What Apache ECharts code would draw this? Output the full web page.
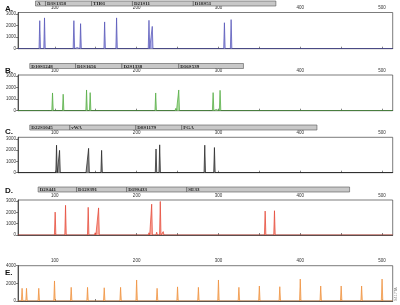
<!DOCTYPE html>
<html>
<head>
<meta charset="utf-8">
<script src="https://cdn.jsdelivr.net/npm/echarts@6/dist/echarts.min.js"></script>
<style>
  html, body { margin: 0; padding: 0; background: #fff; }
  #chart { width: 400px; height: 305px; }
</style>
</head>
<body>
<div id="chart"></div>
<script>
// size axis (bp)
const xMin = 55
const xMax = 513
const xTickValues = [100, 150, 200, 250, 300, 350, 400, 450, 500]
const xLabelValues = [100, 200, 300, 400, 500]
const yTicksSTR = [0, 1000, 2000, 3000]
const yTicksLadder = [0, 2000, 4000]

// peaks: [size bp, height RFU]
const peaksA = [[81.6, 2440], [87.4, 2680], [119.2, 120], [123.3, 2440], [127.3, 100], [131.5, 2180],
  [160.9, 2330], [171.4, 80], [175.5, 2680], [211, 120], [215.1, 2470], [219.1, 1940],
  [304, 80], [307.3, 2260], [312.2, 100], [315.5, 2530]]
const peaksB = [[93, 100], [97.2, 1540], [106.1, 150], [110.2, 1430], [135.5, 120], [138.8, 1800],
  [143.2, 1570], [220.4, 100], [223.3, 1540], [247.8, 200], [251.5, 1800], [289.8, 80],
  [293.5, 1570], [297.1, 100], [302, 1770]]
const peaksC = [[65, 30], [98.9, 150], [102.1, 2450], [108.6, 150],
  [105.8, 1990], [139, 100], [141.3, 2170], [153.9, 100], [157.2, 1990], [220.4, 150], [223.7, 2110],
  [228.2, 2480], [279.6, 100], [283.3, 2450], [291.9, 120], [295.1, 2240], [357.1, 40], [368.2, 40]]
const peaksD = [[96.7, 100], [100.4, 2030], [109.4, 100], [113.1, 2630], [137.1, 80], [140.8, 2450],
  [149.3, 200], [153.5, 2400], [215.1, 200], [218.4, 2730], [224.5, 250], [228.9, 2970],
  [232.5, 300], [353.1, 100], [357.1, 2120], [364.5, 100], [368.5, 2150]]
const peaksE = [[60, 1440], [65.4, 1440], [80.4, 1440], [99.6, 2270], [120, 1550], [140, 1550],
  [160.4, 1500], [180.4, 1550], [200, 2380], [225, 1440], [250, 1600], [275.5, 1550],
  [300, 2380], [325, 1550], [350, 1700], [375, 1620], [400, 2490], [425, 1700],
  [450, 1700], [475, 1700], [500, 2490]]

// locus bins above each dye panel: names and edges (bp)
const lociA = ['A', 'D3S1358', 'TH01', 'D21S11', 'D18S51']
const edgesA = [76.4, 88.6, 144.9, 194.9, 269.3, 370.2]
const lociB = ['D10S1248', 'D1S1656', 'D2S1338', 'D16S539']
const edgesB = [69.4, 125.3, 182, 251.5, 330.6]
const lociC = ['D22S1045', 'vWA', 'D8S1179', 'FGA']
const edgesC = [69.4, 118.4, 199, 255.1, 420.4]
const lociD = ['D2S441', 'D12S391', 'D19S433', 'SE33']
const edgesD = [79.6, 126.6, 187.8, 261.3, 460.3]

const panels = [
  { letter: 'A.', peaks: peaksA, loci: lociA, edges: edgesA, line: '#4d4db5', fill: '#a9a9e6', top: 12.5, h: 36.2, yMax: 3150, yTicks: yTicksSTR, barTop: 1, letterTop: 0 },
  { letter: 'B.', peaks: peaksB, loci: lociB, edges: edgesB, line: '#4aa83a', fill: '#a6da96', top: 75, h: 35.7, yMax: 3100, yTicks: yTicksSTR, barTop: 63.5, letterTop: 62 },
  { letter: 'C.', peaks: peaksC, loci: lociC, edges: edgesC, line: '#1e1e1e', fill: '#8a8a8a', top: 137.3, h: 35.4, yMax: 3150, yTicks: yTicksSTR, barTop: 125, letterTop: 122.5 },
  { letter: 'D.', peaks: peaksD, loci: lociD, edges: edgesD, line: '#e4402f', fill: '#f8a293', top: 200, h: 35, yMax: 3100, yTicks: yTicksSTR, barTop: 187, letterTop: 182 },
  { letter: 'E.', peaks: peaksE, loci: null, edges: null, line: '#ee8a32', fill: '#fcc992', top: 265.7, h: 35.3, yMax: 4000, yTicks: yTicksLadder, barTop: null, letterTop: 264 }
]

function trace (peaks) {
  const w = 0.9
  const pts = [[xMin, 0]]
  peaks.slice().sort((a, b) => a[0] - b[0]).forEach(([p, v]) => {
    pts.push([p - w, 0], [p, v], [p + w, 0])
  })
  pts.push([xMax, 0])
  return pts
}

const grid = []
const xAxis = []
const yAxis = []
const series = []
const title = []

panels.forEach((pn, i) => {
  grid.push({ left: 18, right: 7.3, top: pn.top, height: pn.h, show: true, borderColor: '#444', borderWidth: 0.7 })
  xAxis.push({
    gridIndex: grid.length - 1, type: 'value', position: 'top', min: xMin, max: xMax,
    axisLine: { lineStyle: { color: '#333', width: 0.8 } },
    axisTick: { customValues: xTickValues, length: 2, lineStyle: { color: '#333', width: 0.6 } },
    axisLabel: { customValues: xLabelValues, fontSize: 4.5, color: '#333', margin: 2, fontFamily: 'Liberation Sans' },
    splitLine: { show: false }
  })
  yAxis.push({
    gridIndex: grid.length - 1, type: 'value', min: 0, max: pn.yMax,
    axisLine: { show: true, lineStyle: { color: '#333', width: 0.8 } },
    axisTick: { show: true, customValues: pn.yTicks, length: 2, lineStyle: { color: '#333', width: 0.6 } },
    axisLabel: { customValues: pn.yTicks, fontSize: 4.5, color: '#333', margin: 2, fontFamily: 'Liberation Sans',
      formatter: v => String(v) },
    splitLine: { show: false }
  })
  series.push({
    type: 'line', xAxisIndex: xAxis.length - 1, yAxisIndex: yAxis.length - 1,
    data: trace(pn.peaks), showSymbol: false, silent: true,
    lineStyle: { color: pn.line, width: 0.7 },
    areaStyle: { color: pn.fill, opacity: 0.9 }
  })
  title.push({ text: pn.letter, left: 0, top: pn.letterTop, textStyle: { fontSize: 8, fontWeight: 'bold', color: '#111', fontFamily: 'Liberation Sans' } })
})

panels.forEach(pn => {
  if (!pn.loci) return
  grid.push({ left: 18, right: 7.3, top: pn.barTop, height: 5 })
  xAxis.push({ gridIndex: grid.length - 1, type: 'value', min: xMin, max: xMax, show: false })
  yAxis.push({ gridIndex: grid.length - 1, type: 'value', min: 0, max: 1, show: false })
  const names = pn.loci
  const data = names.map((n, k) => [pn.edges[k], pn.edges[k + 1]])
  series.push({
    type: 'custom', xAxisIndex: xAxis.length - 1, yAxisIndex: yAxis.length - 1,
    data: data, silent: true,
    renderItem (params, api) {
      const s = api.coord([api.value(0), 1])
      const e = api.coord([api.value(1), 0])
      return {
        type: 'group',
        children: [
          { type: 'rect', shape: { x: s[0], y: s[1], width: e[0] - s[0], height: e[1] - s[1] },
            style: { fill: '#c8c8c8', stroke: '#555', lineWidth: 0.6 } },
          { type: 'text', style: { text: names[params.dataIndex], x: s[0] + 1.5, y: (s[1] + e[1]) / 2 + 0.3,
            verticalAlign: 'middle', align: 'left', font: 'bold 5px "Liberation Serif"', fill: '#1a1a1a' } }
        ]
      }
    }
  })
})

const chart = echarts.init(document.getElementById('chart'), null, { renderer: 'canvas' })
chart.setOption({
  animation: false,
  backgroundColor: '#fff',
  title: title,
  grid: grid,
  xAxis: xAxis,
  yAxis: yAxis,
  series: series,
  graphic: [{ type: 'text', x: 394, y: 301, rotation: Math.PI / 2,
    style: { text: '9417TA', font: '4px "Liberation Sans"', fill: '#888' } }]
})
</script>
</body>
</html>
